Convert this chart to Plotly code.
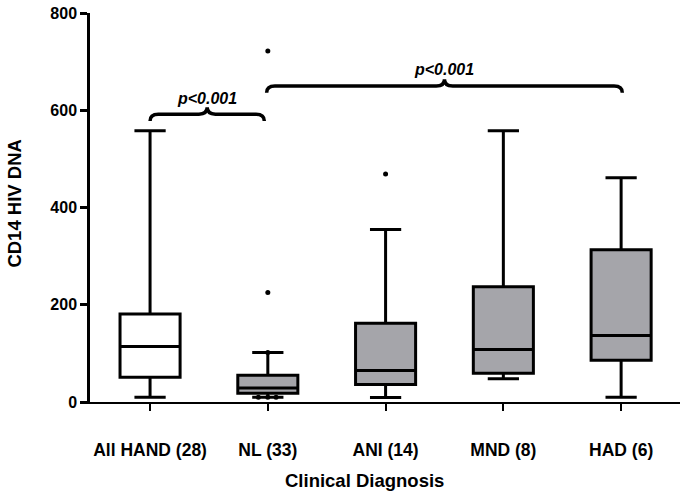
import plotly.graph_objects as go

# ---- data ----
categories = ["All HAND (28)", "NL (33)", "ANI (14)", "MND (8)", "HAD (6)"]
lower_whisker = [10, 10, 9, 48, 10]
q1_values = [51, 18, 36, 59, 86]
median_values = [114, 29, 65, 108, 137]
q3_values = [181, 55, 162, 237, 313]
upper_whisker = [558, 102, 355, 558, 461]
box_fills = ["#FFFFFF", "#A5A5AA", "#A5A5AA", "#A5A5AA", "#A5A5AA"]

# individual points shown (category index, offset, value)
outlier_cat = [1, 1, 1, 1, 1, 1, 2]
outlier_offset = [0.0, 0.0, 0.0, -0.08, 0.0, 0.07, 0.0]
outlier_values = [722, 225, 102, 10, 10, 10, 469]

# significance braces: (from category, to category, height, label)
brace_from = [0.0, 0.99]
brace_to = [0.97, 4.01]
brace_height = [592, 650]
brace_label = ["p&lt;0.001", "p&lt;0.001"]

y_ticks = [0, 200, 400, 600, 800]

FONT = "'Liberation Sans', Arial, sans-serif"

fig = go.Figure()
for i, cat in enumerate(categories):
    fig.add_trace(go.Box(
        x=[i], q1=[q1_values[i]], median=[median_values[i]], q3=[q3_values[i]],
        lowerfence=[lower_whisker[i]], upperfence=[upper_whisker[i]],
        width=0.51, whiskerwidth=0.52, fillcolor=box_fills[i],
        line=dict(color="black", width=3), boxpoints=False,
        showlegend=False, hoverinfo="skip",
    ))

fig.add_trace(go.Scatter(
    x=[c + o for c, o in zip(outlier_cat, outlier_offset)], y=outlier_values,
    mode="markers", marker=dict(color="black", size=5),
    showlegend=False, hoverinfo="skip",
))

# braces
for x0, x1, h, lab in zip(brace_from, brace_to, brace_height, brace_label):
    r = 0.07
    d = 14
    xm = (x0 + x1) / 2
    path = (f"M {x0},{h-d} Q {x0},{h} {x0+r},{h} L {xm-r},{h} "
            f"Q {xm},{h} {xm},{h+d} Q {xm},{h} {xm+r},{h} "
            f"L {x1-r},{h} Q {x1},{h} {x1},{h-d}")
    fig.add_shape(type="path", path=path, xref="x", yref="y",
                  line=dict(color="black", width=3.5))
    fig.add_annotation(x=xm, y=h, xref="x", yref="y", text=f"<b><i>{lab}</i></b>",
                       showarrow=False, yanchor="middle", yshift=16,
                       font=dict(family=FONT, size=16, color="black"))

fig.add_annotation(x=(364 - 90) / 590, y=(402 - 481) / 392, xref="paper", yref="paper",
                   text="<b>Clinical Diagnosis</b>", showarrow=False,
                   xanchor="center", yanchor="middle",
                   font=dict(family=FONT, size=18.5, color="black"))
fig.add_annotation(x=(15 - 90) / 590, y=0.51, xref="paper", yref="paper",
                   text="<b>CD14 HIV DNA</b>", showarrow=False, textangle=-90,
                   xanchor="center", yanchor="middle",
                   font=dict(family=FONT, size=18.5, color="black"))

fig.update_layout(
    width=685, height=495,
    margin=dict(l=90, r=5, t=10, b=93),
    plot_bgcolor="white", paper_bgcolor="white",
    font=dict(family=FONT, color="black"),
    xaxis=dict(
        range=[-0.51, 4.5], tickvals=list(range(len(categories))),
        ticktext=[f"<b>{c}</b>" for c in categories],
        showline=True, linecolor="black", linewidth=2,
        ticks="outside", ticklen=7, tickwidth=2, tickcolor="black",
        showgrid=False, zeroline=False, ticklabelstandoff=24,
        tickfont=dict(family=FONT, size=17.5, color="black"),
    ),
    yaxis=dict(
        range=[0, 800], tickvals=y_ticks,
        ticktext=[f"<b>{v}</b>" for v in y_ticks],
        showline=True, linecolor="black", linewidth=2.5,
        ticks="outside", ticklen=7, tickwidth=2.5, tickcolor="black",
        showgrid=False, zeroline=False,
        tickfont=dict(family=FONT, size=16, color="black"),
    ),
)

fig.write_html("out.html", config={"displayModeBar": False},
               post_script="document.body.style.margin='0';document.body.style.overflow='hidden';")
